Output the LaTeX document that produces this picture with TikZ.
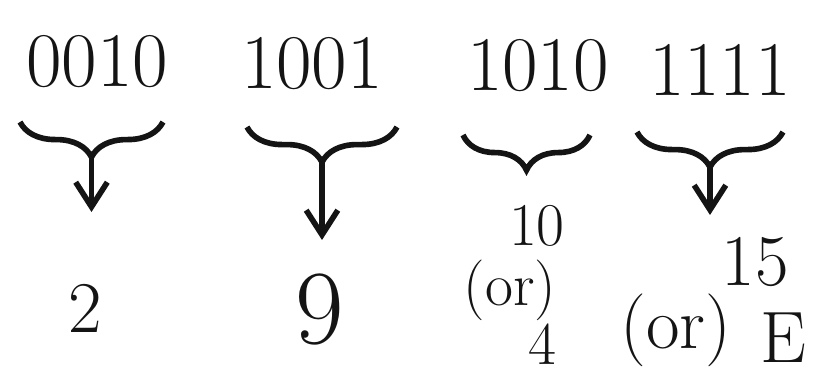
\documentclass[tikz,border=0pt]{standalone}
\usepackage{tikz}
\usetikzlibrary{arrows.meta,positioning,decorations.pathreplacing}
\definecolor{inkblack}{RGB}{20,20,20}

\begin{document}
\begin{tikzpicture}[
      >={Straight Barb[length=7pt,width=9pt]},
      every node/.style={align=center, text=inkblack, inner sep=0pt},
      bits/.style={font=\fontsize{22}{26}\selectfont},
      val/.style={font=\huge},
      small/.style={font=\LARGE},
      grp/.style={decorate, decoration={brace, mirror, amplitude=10pt},
        line width=1.6pt, draw=inkblack},
      arr/.style={->, line width=1.6pt, draw=inkblack},
    ]
    \useasboundingbox (0,0) rectangle (8.19,-3.73);

    % ── BINARY GROUPS ───────────────────────────────────────────
    \node[bits] (ga) at (0.97,-0.62) {0010};
    \node[bits] (gb) at (3.12,-0.64) {1001};
    \node[bits] (gc) at (5.38,-0.66) {1010};
    \node[bits] (gd) at (7.20,-0.70) {1111};

    % ── BRACES ──────────────────────────────────────────────────
    \draw[grp] (0.20,-1.22) -- coordinate[pos=0.5, yshift=-10pt] (ta) (1.63,-1.22);
    \draw[grp] (2.47,-1.27) -- coordinate[pos=0.5, yshift=-10pt] (tb) (3.97,-1.27);
    \draw[grp] (4.63,-1.35) -- (5.90,-1.35);
    \draw[grp] (6.37,-1.32) -- coordinate[pos=0.5, yshift=-10pt] (td) (7.83,-1.32);

    \coordinate (ea) at (ta |- 0,-2.12);
    \coordinate (eb) at (tb |- 0,-2.40);
    \coordinate (ed) at (td |- 0,-2.15);
    \draw[arr] (ta) -- (ea);
    \draw[arr] (tb) -- (eb);
    \draw[arr] (td) -- (ed);

    % ── VALUES ──────────────────────────────────────────────────
    \node[val] (va) at (0.85,-3.08) {2};
    \node[font=\fontsize{30}{34}\selectfont] (vb) at (3.20,-3.10) {9};

    \node[small] (vc) at (5.37,-2.26) {10};
    \node[small] (orc) at (5.10,-2.90) {(or)};
    \node[small] (hc) at (5.42,-3.44) {4};

    \node[val] (vd) at (7.55,-2.62) {15};
    \node[val] (ord) at (6.76,-3.30) {(or)};
    \node[val] (hd) at (7.83,-3.38) {E};

\end{tikzpicture}
\end{document}
